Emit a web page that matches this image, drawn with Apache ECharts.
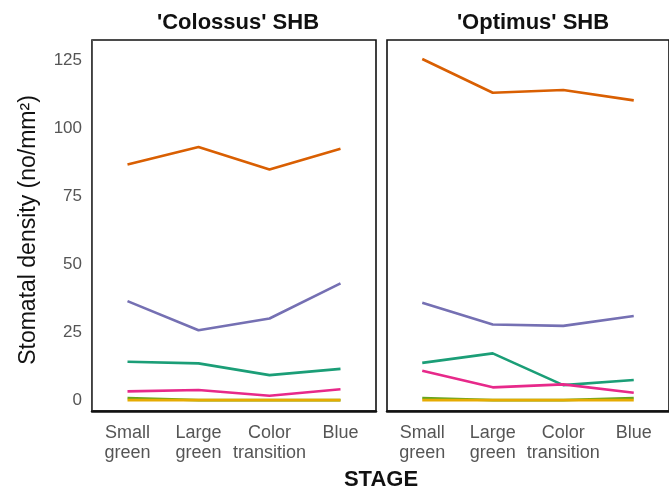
<!DOCTYPE html>
<html><head><meta charset="utf-8">
<script src="https://cdn.jsdelivr.net/npm/echarts@6/dist/echarts.min.js"></script>
<style>html,body{margin:0;padding:0;background:#fff}#c{width:669px;height:489px}</style>
</head><body><div id="c"></div>
<script>
const stages = ['Small\ngreen', 'Large\ngreen', 'Color\ntransition', 'Blue'];
const panels = ["'Colossus' SHB", "'Optimus' SHB"];
const yTicks = [0, 25, 50, 75, 100, 125];
const seriesNames = ['A', 'B', 'C', 'D', 'E', 'F'];
const seriesColors = ['#1B9E77', '#D95F02', '#7570B3', '#E7298A', '#66A61E', '#E6AB02'];
// Colossus
const colGreen  = [14.1, 13.5, 9.2, 11.5];
const colOrange = [86.6, 93.1, 84.8, 92.4];
const colPurple = [36.4, 25.7, 30.0, 42.9];
const colPink   = [3.2, 3.7, 1.6, 4.0];
const colOlive  = [0.8, 0, 0, 0];
const colYellow = [0, 0, 0, 0];
// Optimus
const optGreen  = [13.7, 17.2, 5.5, 7.4];
const optOrange = [125.4, 113.0, 114.0, 110.2];
const optPurple = [35.8, 27.8, 27.3, 30.9];
const optPink   = [10.8, 4.7, 5.8, 2.7];
const optOlive  = [0.8, 0, 0, 0.8];
const optYellow = [0, 0, 0, 0];

const panelData = [
  [colGreen, colOrange, colPurple, colPink, colOlive, colYellow],
  [optGreen, optOrange, optPurple, optPink, optOlive, optYellow]
];
const FF = 'Liberation Sans, Arial, sans-serif';

const chart = echarts.init(document.getElementById('c'), null, {renderer: 'canvas'});
const grids = [
  {left: 92, top: 40, width: 284, height: 371, show: true, borderColor: '#111', borderWidth: 1.6, backgroundColor: 'transparent'},
  {left: 387, top: 40, width: 285, height: 371, show: true, borderColor: '#111', borderWidth: 1.6, backgroundColor: 'transparent'}
];
const xAxes = grids.map((g, i) => ({
  type: 'category', gridIndex: i, data: stages, boundaryGap: true,
  axisLine: {show: true, onZero: false, lineStyle: {color: '#111', width: 2.5}},
  axisTick: {show: false},
  axisLabel: {color: '#555', fontSize: 18, fontFamily: FF, lineHeight: 20, margin: 12, interval: 0}
}));
const yAxes = grids.map((g, i) => ({
  type: 'value', gridIndex: i, min: -4, max: 132.4,
  splitLine: {show: false},
  axisLine: {show: i === 0, lineStyle: {color: '#555', width: 1}},
  axisTick: {show: false},
  axisLabel: {show: i === 0, customValues: yTicks, color: '#555', fontSize: 17, fontFamily: FF, margin: 10}
}));
const series = [];
panelData.forEach((arrs, p) => {
  arrs.forEach((arr, k) => {
    series.push({
      type: 'line', name: seriesNames[k], xAxisIndex: p, yAxisIndex: p,
      data: arr, symbol: 'none', silent: true,
      lineStyle: {color: seriesColors[k], width: 2.6}, z: 2 + k
    });
  });
});
chart.setOption({
  animation: false,
  title: [
    {text: panels[0], left: 233, top: 7, textAlign: 'center', textStyle: {fontSize: 22, fontWeight: 'bold', color: '#111', fontFamily: FF}},
    {text: panels[1], left: 528, top: 7, textAlign: 'center', textStyle: {fontSize: 22, fontWeight: 'bold', color: '#111', fontFamily: FF}}
  ],
  graphic: [
    {type: 'text', x: 381, y: 480, style: {text: 'STAGE', fontSize: 22, fontWeight: 'bold', fill: '#111', fontFamily: FF, align: 'center', verticalAlign: 'middle'}},
    {type: 'text', x: 29, y: 230, rotation: Math.PI / 2, style: {text: 'Stomatal density (no/mm²)', fontSize: 23, fill: '#111', fontFamily: FF, align: 'center', verticalAlign: 'middle'}}
  ],
  grid: grids, xAxis: xAxes, yAxis: yAxes, series: series
});
</script></body></html>
